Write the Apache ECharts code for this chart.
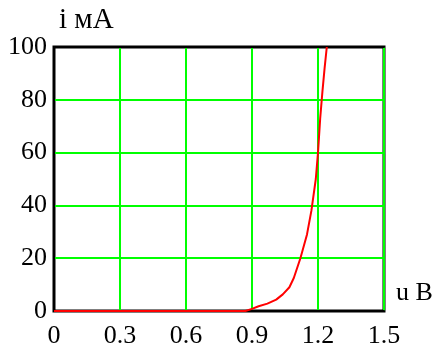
<!DOCTYPE html>
<html>
<head>
<meta charset="utf-8">
<script src="https://cdn.jsdelivr.net/npm/echarts@6/dist/echarts.min.js"></script>
<style>
html,body{margin:0;padding:0;background:#fff;}
#c{width:445px;height:349px;}
</style>
</head>
<body>
<div id="c"></div>
<script>
var voltage = [0, 0.87, 0.9, 0.93, 0.97, 1.01, 1.04, 1.07, 1.09, 1.12, 1.15, 1.17, 1.19, 1.2, 1.21, 1.22, 1.23, 1.24];
var current = [0, 0, 0.8, 1.8, 2.8, 4.3, 6.3, 9, 12.5, 20, 29, 38, 50, 60, 73, 83, 92, 100];
var xTicks = [0, 0.3, 0.6, 0.9, 1.2, 1.5];
var yTicks = [0, 20, 40, 60, 80, 100];
var yName = 'i мА';
var xName = 'u B';

var chart = echarts.init(document.getElementById('c'));
var font = 'Liberation Serif';
var pts = voltage.map(function (u, k) { return [u, current[k]]; });
var xMin = xTicks[0], xMax = xTicks[xTicks.length - 1];
var yMin = yTicks[0], yMax = yTicks[yTicks.length - 1];
chart.setOption({
  animation: false,
  grid: { left: 54, right: 61, top: 47, bottom: 38, show: true, borderColor: '#000', borderWidth: 3, backgroundColor: 'transparent' },
  xAxis: [{
    type: 'value', min: xMin, max: xMax, interval: 0.3,
    axisLine: { lineStyle: { color: '#000', width: 2 } },
    axisTick: { show: false },
    axisLabel: { color: '#000', fontFamily: font, fontSize: 26, margin: 12,
      formatter: function (v) { return String(Math.round(v * 10) / 10); } },
    splitLine: { show: true, lineStyle: { color: '#00ff00', width: 2 } }
  }, {
    type: 'value', position: 'top', min: xMin, max: xMax, interval: 0.3,
    axisLine: { show: true, lineStyle: { color: '#000', width: 2 } },
    axisTick: { show: false }, axisLabel: { show: false }, splitLine: { show: false }
  }],
  yAxis: {
    type: 'value', min: yMin, max: yMax, interval: 20,
    axisLine: { lineStyle: { color: '#000', width: 2 } },
    axisTick: { show: false },
    axisLabel: { color: '#000', fontFamily: font, fontSize: 26, margin: 7 },
    splitLine: { show: true, lineStyle: { color: '#00ff00', width: 2 } }
  },
  graphic: [
    { type: 'text', left: 59, top: 6, style: { text: yName, fill: '#000', font: '29px "Liberation Serif"' } },
    { type: 'text', left: 396, top: 280, style: { text: xName, fill: '#000', font: '26px "Liberation Serif"' } }
  ],
  series: [{
    type: 'line', data: pts, showSymbol: false, smooth: false, xAxisIndex: 0,
    lineStyle: { color: '#ff0000', width: 2 }, z: 5
  }]
});
</script>
</body>
</html>
